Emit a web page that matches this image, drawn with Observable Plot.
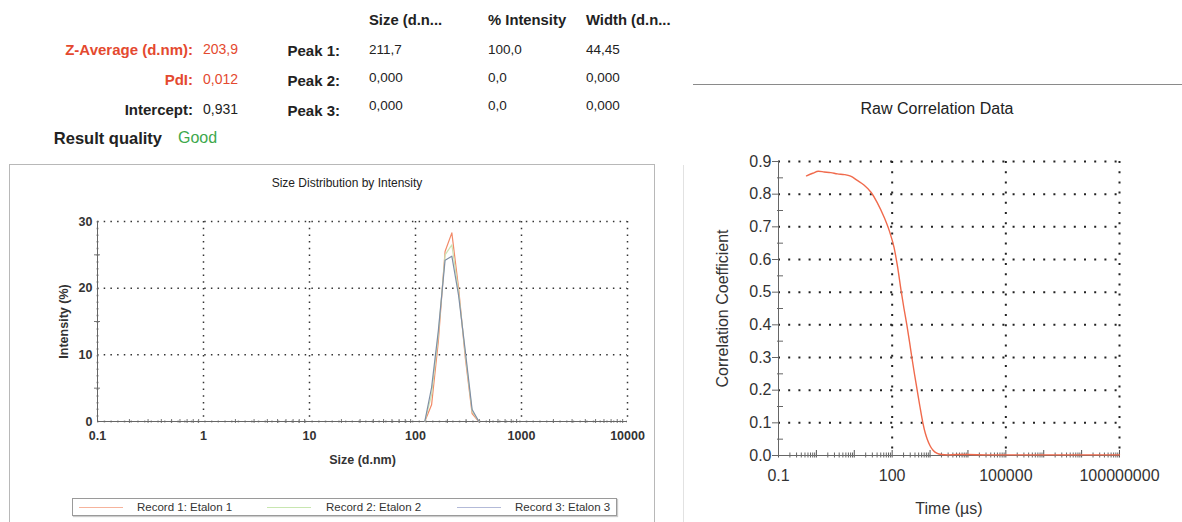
<!DOCTYPE html>
<html><head><meta charset="utf-8">
<script src="https://cdn.jsdelivr.net/npm/d3@7"></script>
<script src="https://cdn.jsdelivr.net/npm/@observablehq/plot@0.6"></script>
<style>
html,body{margin:0;padding:0;background:#fff;}
body{width:1182px;height:522px;overflow:hidden;position:relative;font-family:"Liberation Sans",Arial,sans-serif;color:#222;}
.t{position:absolute;white-space:nowrap;line-height:1;}
.b{font-weight:bold;}
#leftbox{position:absolute;left:9px;top:164px;width:646px;height:370px;border:1px solid #b8b8b8;box-sizing:border-box;}
#rightsep{position:absolute;left:683px;top:165px;width:1px;height:357px;background:#e2e2e2;}
#hline{position:absolute;left:693px;top:84px;width:489px;height:1px;background:#8a8a8a;}
#leftplot{position:absolute;left:10px;top:195px;}
#rightplot{position:absolute;left:683px;top:130px;}
#legend{position:absolute;left:72px;top:498px;width:545px;height:18px;border:1px solid #9a9a9a;box-sizing:border-box;box-shadow:1px 1px 1px #ccc;font-size:11.5px;color:#333;}
</style></head><body>
<div id="leftbox"></div>
<div id="rightsep"></div>
<div id="hline"></div>
<div id="header"></div>
<div id="leftplot"></div>
<div id="legend"></div>
<div id="rightplot"></div>
<script>
// ---------- summary table ----------
const summaryLabels = ["Z-Average (d.nm):", "PdI:", "Intercept:"];
const summaryValues = ["203,9", "0,012", "0,931"];
const summaryColors = ["#e4492f", "#e4492f", "#222"];
const qualityLabel = "Result quality";
const qualityValue = "Good";
const peakColumns = ["Size (d.n...", "% Intensity", "Width (d.n..."];
const peakLabels = ["Peak 1:", "Peak 2:", "Peak 3:"];
const peakSize = ["211,7", "0,000", "0,000"];
const peakIntensity = ["100,0", "0,0", "0,0"];
const peakWidth = ["44,45", "0,000", "0,000"];

// ---------- size distribution ----------
const sizeTitle = "Size Distribution by Intensity";
const sizeBins = [122.4, 141.8, 164.2, 190.1, 220.2, 255.0, 295.3, 342.0, 396.1];
const record1 = [0, 2.5, 12.0, 25.5, 28.3, 20.0, 9.5, 1.2, 0];
const record2 = [0, 4.0, 13.0, 25.0, 26.5, 19.5, 10.0, 1.5, 0];
const record3 = [0, 5.1, 13.6, 24.2, 24.8, 18.9, 10.5, 1.8, 0];
const recordNames = ["Record 1: Etalon 1", "Record 2: Etalon 2", "Record 3: Etalon 3"];
const recordColors = ["#f28a68", "#cde3b4", "#7f8ea6"];
const legendColors = ["#f6b39c", "#c8e6b0", "#b3bad8"];
const sizeTickValues = [0.1, 1, 10, 100, 1000, 10000];
const sizeTickLabels = ["0.1", "1", "10", "100", "1000", "10000"];
const intensityTicks = [0, 10, 20, 30];
const intensityMinor = [5, 15, 25];

// ---------- raw correlation ----------
const corrTitle = "Raw Correlation Data";
const corrTime = [0.55, 0.8, 1.13, 1.6, 2.4, 3.6, 5.5, 8, 12, 18, 28, 40, 61, 85, 112, 140, 172, 205, 244, 290, 331, 390, 457, 540, 646, 750, 843, 1000, 1200, 1500, 2000, 3000, 5000, 10000, 30000, 100000, 1000000, 10000000, 100000000];
const corrValue = [0.856, 0.864, 0.870, 0.868, 0.866, 0.862, 0.860, 0.855, 0.842, 0.828, 0.805, 0.775, 0.730, 0.686, 0.637, 0.575, 0.505, 0.450, 0.400, 0.345, 0.300, 0.248, 0.200, 0.150, 0.100, 0.068, 0.050, 0.030, 0.016, 0.007, 0.003, 0.002, 0.003, 0.003, 0.002, 0.002, 0.002, 0.002, 0.002];
const timeTickValues = [0.1, 100, 100000, 100000000];
const timeTickLabels = ["0.1", "100", "100000", "100000000"];
const corrTicks = [0, 0.1, 0.2, 0.3, 0.4, 0.5, 0.6, 0.7, 0.8, 0.9];
const corrMinor = [0.05, 0.15, 0.25, 0.35, 0.45, 0.55, 0.65, 0.75, 0.85];

// ---------- header (HTML text) ----------
const header = document.getElementById("header");
function put(text, x, y, {anchor = "start", size = 14, bold = false, color = "#222"} = {}) {
  const s = document.createElement("div");
  s.className = "t" + (bold ? " b" : "");
  s.textContent = text;
  s.style.fontSize = size + "px";
  s.style.color = color;
  s.style.top = (y - size * 0.55) + "px";
  if (anchor === "end") s.style.right = (1182 - x) + "px";
  else s.style.left = x + "px";
  header.appendChild(s);
  return s;
}
const rowY = [50, 80, 110];
summaryLabels.forEach((l, i) => {
  put(l, 193, rowY[i], {anchor: "end", size: 15, bold: true, color: summaryColors[i]});
  put(summaryValues[i], 203, rowY[i], {size: 14, color: summaryColors[i]});
});
put(qualityLabel, 162, 139, {anchor: "end", size: 16.5, bold: true});
put(qualityValue, 178, 139, {size: 16, color: "#3da84c"});
const colX = [369, 488, 586];
peakColumns.forEach((c, j) => put(c, colX[j], 21, {size: 14.8, bold: true}));
const peakRowY = [51, 81, 111];
const valRowY = [50, 78, 106];
peakLabels.forEach((l, i) => {
  put(l, 340, peakRowY[i], {anchor: "end", size: 15, bold: true});
  put(peakSize[i], colX[0], valRowY[i], {size: 13.5});
  put(peakIntensity[i], colX[1], valRowY[i], {size: 13.5});
  put(peakWidth[i], colX[2], valRowY[i], {size: 13.5});
});
const st = put(sizeTitle, 0, 184, {size: 12});
st.style.width = "694px"; st.style.textAlign = "center";
const ct = put(corrTitle, 637, 110, {size: 16});
ct.style.width = "600px"; ct.style.textAlign = "center";

// ---------- left chart ----------
const sizeData = [];
recordNames.forEach((name, r) => {
  const vals = [record1, record2, record3][r];
  sizeBins.forEach((s, i) => sizeData.push({size: s, value: vals[i], record: name}));
});
const sizeMinor = d3.scaleLog().domain([0.1, 10000]).ticks().filter(v => !sizeTickValues.some(t => Math.abs(Math.log10(t) - Math.log10(v)) < 1e-9));

const leftPlot = Plot.plot({
  width: 645, height: 280,
  marginLeft: 87, marginRight: 28, marginTop: 26, marginBottom: 54,
  x: {type: "log", domain: [0.1, 10000]},
  y: {domain: [0, 30]},
  color: {domain: recordNames, range: recordColors},
  style: {fontFamily: "'Liberation Sans', Arial, sans-serif", fontSize: "12.5px", color: "#333", background: "transparent", overflow: "visible"},
  marks: [
    Plot.gridX(sizeTickValues, {stroke: "#333", strokeOpacity: 1, strokeWidth: 1.5, strokeDasharray: "1.5,5.2"}),
    Plot.gridY(intensityTicks, {stroke: "#333", strokeOpacity: 1, strokeWidth: 1.5, strokeDasharray: "1.5,5.2"}),
    Plot.ruleX(sizeMinor, {x: d => d, y1: 0, y2: 0, insetTop: -2, insetBottom: -2, stroke: "#777"}),
    Plot.ruleY(intensityMinor, {y: d => d, x1: 0.1, x2: 0.1, insetLeft: -3, insetRight: -3, stroke: "#777"}),
    Plot.ruleY([0], {stroke: "#666"}),
    Plot.ruleX([0.1], {stroke: "#666"}),
    Plot.axisX({ticks: sizeTickValues, tickFormat: d => sizeTickLabels[sizeTickValues.indexOf(d)], tickSize: 0, tickPadding: 10, fontWeight: "bold", label: "Size (d.nm)", labelAnchor: "center", labelArrow: "none", labelOffset: 42}),
    Plot.axisY({ticks: intensityTicks, tickFormat: d => String(d), tickSize: 0, tickPadding: 5, fontWeight: "bold", label: "Intensity (%)", labelAnchor: "center", labelArrow: "none", labelOffset: 38}),
    Plot.line(sizeData, {x: "size", y: "value", z: "record", stroke: "record", strokeWidth: 1.2})
  ]
});
document.getElementById("leftplot").appendChild(leftPlot);

// legend (HTML)
const legend = document.getElementById("legend");
const legendSwX = [6, 194, 384];
const legendTxtX = [64, 253, 442];
recordNames.forEach((n, i) => {
  const sw = document.createElement("div");
  sw.style.cssText = `position:absolute;left:${legendSwX[i]}px;top:8px;width:44px;height:0;border-top:1.5px solid ${legendColors[i]};`;
  legend.appendChild(sw);
  const t = document.createElement("div");
  t.className = "t";
  t.textContent = n;
  t.style.left = legendTxtX[i] + "px";
  t.style.top = "2.5px";
  legend.appendChild(t);
});

// ---------- right chart ----------
const corrData = corrTime.map((t, i) => ({time: t, value: corrValue[i]}));
const timeAll = d3.scaleLog().domain([0.1, 1e8]).ticks();
const isPow10 = v => Math.abs(Math.log10(v) - Math.round(Math.log10(v))) < 1e-9;
const timeDecades = timeAll.filter(isPow10);
const timeMinor = timeAll.filter(v => !isPow10(v));

const rightPlot = Plot.plot({
  width: 499, height: 392,
  marginLeft: 95, marginRight: 63, marginTop: 31, marginBottom: 67,
  x: {type: "log", domain: [0.1, 1e8]},
  y: {domain: [0, 0.9]},
  style: {fontFamily: "'Liberation Sans', Arial, sans-serif", fontSize: "16px", color: "#333", background: "transparent", overflow: "visible"},
  marks: [
    Plot.gridX(timeTickValues.slice(1), {stroke: "#222", strokeOpacity: 1, strokeWidth: 2, strokeDasharray: "2,8.2"}),
    Plot.gridY(corrTicks.slice(1), {stroke: "#222", strokeOpacity: 1, strokeWidth: 2, strokeDasharray: "2,8.2"}),
    Plot.ruleX(timeMinor, {x: d => d, y1: 0, y2: 0, insetTop: -2.5, insetBottom: -2.5, stroke: "#666"}),
    Plot.ruleX(timeDecades, {x: d => d, y1: 0, y2: 0, insetTop: -5, insetBottom: -2.5, stroke: "#555"}),
    Plot.ruleY(corrMinor, {y: d => d, x1: 0.1, x2: 0.1, insetLeft: -1, insetRight: -5, stroke: "#666"}),
    Plot.ruleY(corrTicks, {y: d => d, x1: 0.1, x2: 0.1, insetLeft: -6, insetRight: 0, stroke: "#666"}),
    Plot.ruleY([0], {stroke: "#666"}),
    Plot.ruleX([0.1], {stroke: "#666"}),
    Plot.axisX({ticks: timeTickValues, tickFormat: d => timeTickLabels[timeTickValues.indexOf(d)], tickSize: 0, tickPadding: 14, label: "Time (µs)", labelAnchor: "center", labelArrow: "none", labelOffset: 58}),
    Plot.axisY({ticks: corrTicks, tickFormat: d => d.toFixed(1), tickSize: 0, tickPadding: 7, label: "Correlation Coefficient", labelAnchor: "center", labelArrow: "none", labelOffset: 62}),
    Plot.line(corrData, {x: "time", y: "value", stroke: "#f06a4c", strokeWidth: 1.4, curve: "monotone-x"})
  ]
});
document.getElementById("rightplot").appendChild(rightPlot);
</script>
</body></html>
